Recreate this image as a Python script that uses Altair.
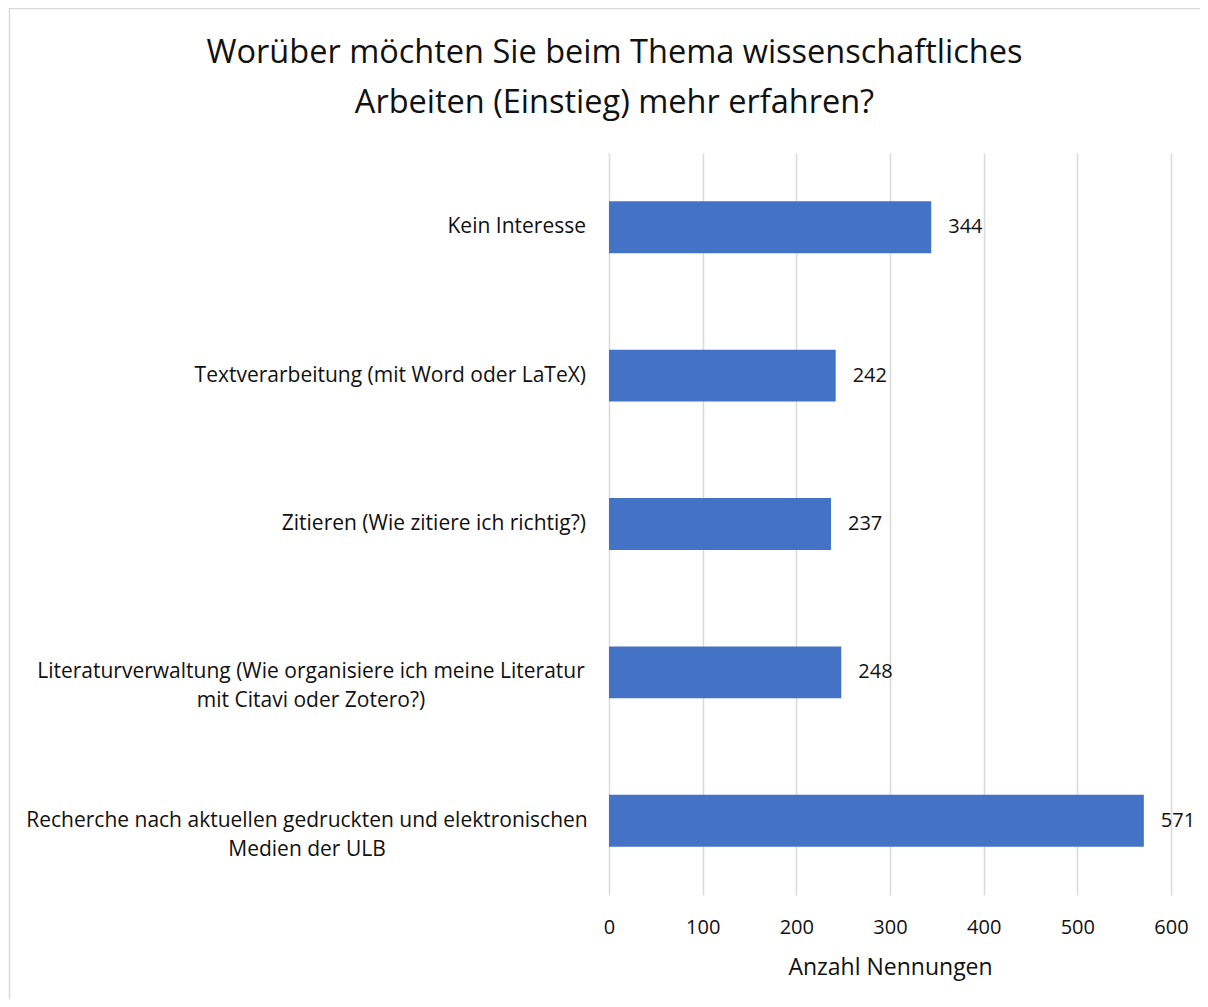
import altair as alt
import pandas as pd

# ---- data ----
categories = [
    "Kein Interesse",
    "Textverarbeitung (mit Word oder LaTeX)",
    "Zitieren (Wie zitiere ich richtig?)",
    "Literaturverwaltung (Wie organisiere ich meine Literatur mit Citavi oder Zotero?)",
    "Recherche nach aktuellen gedruckten und elektronischen Medien der ULB",
]
label_lines = [
    ["Kein Interesse"],
    ["Textverarbeitung (mit Word oder LaTeX)"],
    ["Zitieren (Wie zitiere ich richtig?)"],
    ["Literaturverwaltung (Wie organisiere ich meine Literatur", "mit Citavi oder Zotero?)"],
    ["Recherche nach aktuellen gedruckten und elektronischen", "Medien der ULB"],
]
counts = [344, 242, 237, 248, 571]
x_ticks = [0, 100, 200, 300, 400, 500, 600]
title_lines = ["Worüber möchten Sie beim Thema wissenschaftliches", "Arbeiten (Einstieg) mehr erfahren?"]
x_title = "Anzahl Nennungen"

FONT = "Open Sans"
TEXT = "#111111"

df = pd.DataFrame({
    "category": categories,
    "count": counts,
    "label": ["\n".join(l) for l in label_lines],
    "nlines": [len(l) for l in label_lines],
})

y_enc = alt.Y(
    "category:N",
    sort=categories,
    scale=alt.Scale(paddingInner=0.65, paddingOuter=0.325),
    axis=None,
)
x_enc = alt.X(
    "count:Q",
    scale=alt.Scale(domain=[0, 600], nice=False),
    axis=alt.Axis(
        values=x_ticks,
        domain=False,
        ticks=False,
        grid=True,
        gridColor="#d9d9d9",
        gridWidth=1.5,
        labelFont=FONT,
        labelFontSize=20,
        labelColor=TEXT,
        labelPadding=22,
        labelFlush=False,
        title=x_title,
        titleFont=FONT,
        titleFontSize=23,
        titleFontWeight="normal",
        titleColor=TEXT,
        titleBaseline="alphabetic",
        titleY=79,
    ),
)

base = alt.Chart(df)

bars = base.mark_bar(color="#4472C4").encode(x=x_enc, y=y_enc)

values = base.mark_text(
    align="left", baseline="middle", dx=17, font=FONT, fontSize=20, color=TEXT
).encode(x=alt.X("count:Q"), y=y_enc, text=alt.Text("count:Q"))

single = base.transform_filter("datum.nlines == 1").mark_text(
    align="right", baseline="middle", font=FONT, fontSize=21, color=TEXT
).encode(x=alt.value(-23), y=y_enc, text="label:N")

lit = base.transform_filter(alt.datum.category == categories[3]).mark_text(
    align="center", baseline="middle", font=FONT, fontSize=21, color=TEXT,
    lineBreak="\n", lineHeight=29,
).encode(x=alt.value(-298), y=y_enc, text="label:N")

rech = base.transform_filter(alt.datum.category == categories[4]).mark_text(
    align="center", baseline="middle", font=FONT, fontSize=21, color=TEXT,
    lineBreak="\n", lineHeight=29,
).encode(x=alt.value(-302), y=y_enc, text="label:N")

one = alt.Chart(pd.DataFrame({"k": [0]}))
border = one.mark_rect(fillOpacity=0, stroke="#d9d9d9", strokeWidth=1.5).encode(
    x=alt.value(-599.5), x2=alt.value(700), y=alt.value(-144.5), y2=alt.value(900)
)
t1 = one.mark_text(
    align="center", baseline="alphabetic", font=FONT, fontSize=32.5, color=TEXT
).encode(x=alt.value(5.5), y=alt.value(-90), text=alt.value(title_lines[0]))
t2 = one.mark_text(
    align="center", baseline="alphabetic", font=FONT, fontSize=32.5, color=TEXT
).encode(x=alt.value(5.5), y=alt.value(-40), text=alt.value(title_lines[1]))

chart = alt.layer(border, bars, values, single, lit, rech, t1, t2).properties(
    width=562,
    height=742,
    background="white",
    padding={"left": 601, "top": 145, "right": 29, "bottom": 104},
    autosize=alt.AutoSizeParams(type="none"),
).configure_view(stroke="transparent", strokeWidth=0)

chart.save("out.html", embed_options={"renderer": "svg", "actions": False})
